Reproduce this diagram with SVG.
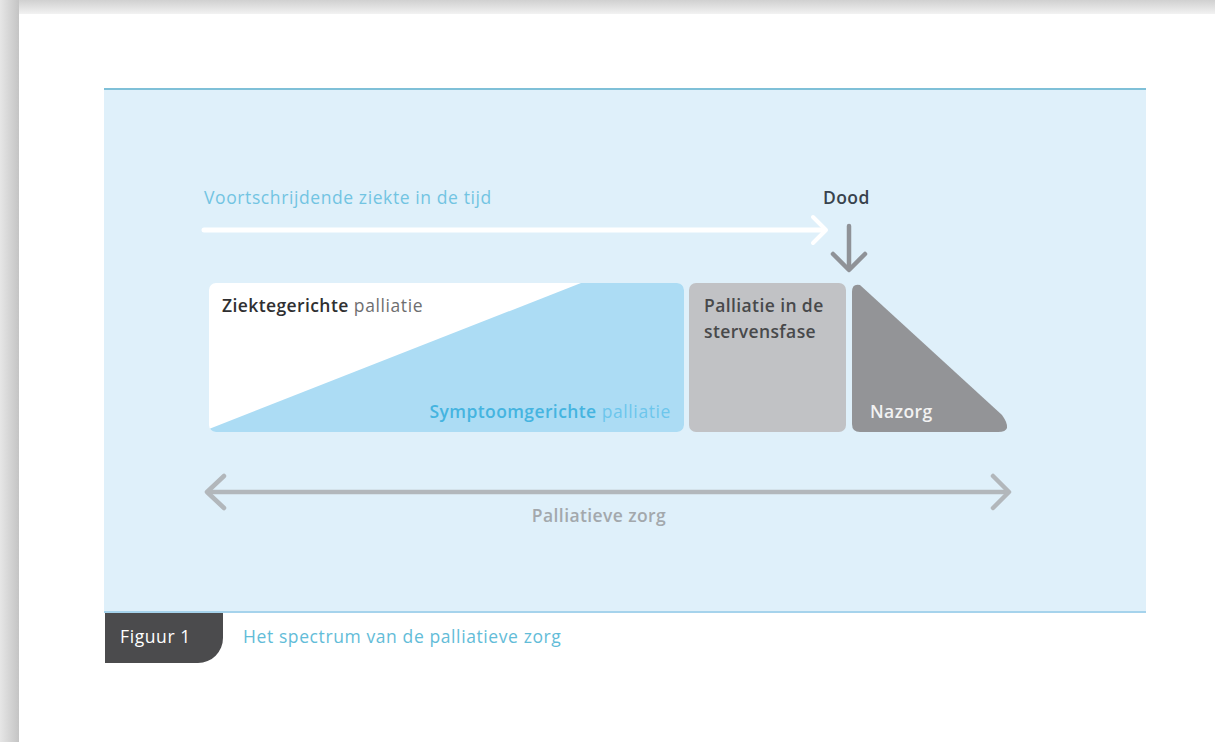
<svg xmlns="http://www.w3.org/2000/svg" width="1215" height="742" viewBox="0 0 1215 742">
<defs>
<linearGradient id="shTop" x1="0" y1="0" x2="0" y2="1"><stop offset="0" stop-color="#d0d0d0"/><stop offset="1" stop-color="#f2f2f2"/></linearGradient>
<linearGradient id="shLeft" x1="0" y1="0" x2="1" y2="0"><stop offset="0" stop-color="#e6e6e6"/><stop offset="1" stop-color="#c4c4c4"/></linearGradient>
<clipPath id="mainClip"><rect x="209" y="283" width="475" height="149" rx="7"/></clipPath>
</defs>
<style>
text{font-family:"Open Sans",Lato,"Liberation Sans",sans-serif;font-size:17.5px;letter-spacing:0.6px;}
.b{font-weight:600;letter-spacing:0.4px;}
</style>
<rect width="1215" height="742" fill="#ffffff"/>
<rect x="0" y="0" width="1215" height="14" fill="url(#shTop)"/>
<rect x="0" y="0" width="19" height="742" fill="url(#shLeft)"/>
<rect x="19" y="14" width="1196" height="728" fill="#ffffff"/>

<g id="panel">
<rect x="104" y="89" width="1042" height="523" fill="#dff0fa"/>
<rect x="104" y="88" width="1042" height="2" fill="#7fc0d8"/>
<rect x="104" y="611" width="1042" height="2" fill="#a6d3ec"/>
</g>

<g id="caption">
<path d="M105 613 H223 V638 A25 25 0 0 1 198 663 H105 Z" fill="#4b4b4d"/>
<text x="120" y="643" fill="#ffffff">Figuur 1</text>
<text x="243" y="643" fill="#62bcd8">Het spectrum van de palliatieve zorg</text>
</g>

<g id="timeline">
<text x="204" y="204" fill="#72c4e2">Voortschrijdende ziekte in de tijd</text>
</g>

<g id="dood">
<text x="823" y="204" class="b" fill="#38434d">Dood</text>
</g>

<g id="connectors" fill="none" stroke-linecap="round" stroke-linejoin="round">
<line x1="204" y1="230" x2="824" y2="230" stroke="#ffffff" stroke-width="5"/>
<polyline points="813,217 826,230 813,243" stroke="#ffffff" stroke-width="4"/>
<line x1="849" y1="226" x2="849" y2="268" stroke="#8f9297" stroke-width="4.5"/>
<polyline points="833,254 849,270 865,254" stroke="#8f9297" stroke-width="4.5"/>
<line x1="208" y1="492" x2="1008" y2="492" stroke="#b2b7bb" stroke-width="4.5"/>
<polyline points="224,476 207,492 224,508" stroke="#b2b7bb" stroke-width="4.5"/>
<polyline points="993,476 1009,492 993,508" stroke="#b2b7bb" stroke-width="4.5"/>
</g>

<g id="zorg-label">
<text x="599" y="522" class="b" fill="#a3a8ac" text-anchor="middle">Palliatieve zorg</text>
</g>

<g id="main-block">
<g clip-path="url(#mainClip)">
<rect x="209" y="283" width="475" height="149" fill="#ffffff"/>
<polygon points="209,429 581,283 684,283 684,432 209,432" fill="#acdcf4"/>
</g>
<text x="222" y="312"><tspan class="b" fill="#2f2f31">Ziektegerichte</tspan><tspan fill="#6e6e70"> palliatie</tspan></text>
<text x="671" y="418" text-anchor="end"><tspan class="b" fill="#45b4e0">Symptoomgerichte</tspan><tspan fill="#6cc6ec"> palliatie</tspan></text>
</g>

<g id="stervensfase">
<rect x="689" y="283" width="157" height="149" rx="7" fill="#c1c2c5"/>
<text x="704" y="312" class="b" fill="#48494b">Palliatie in de</text>
<text x="704" y="338" class="b" fill="#48494b">stervensfase</text>
</g>

<g id="nazorg">
<path d="M852 292 Q852 283 860 285 L1002 415 Q1014 432 998 432 L860 432 Q852 432 852 424 Z" fill="#939497"/>
<text x="870" y="418" class="b" fill="#f2f2f2">Nazorg</text>
</g>
</svg>
